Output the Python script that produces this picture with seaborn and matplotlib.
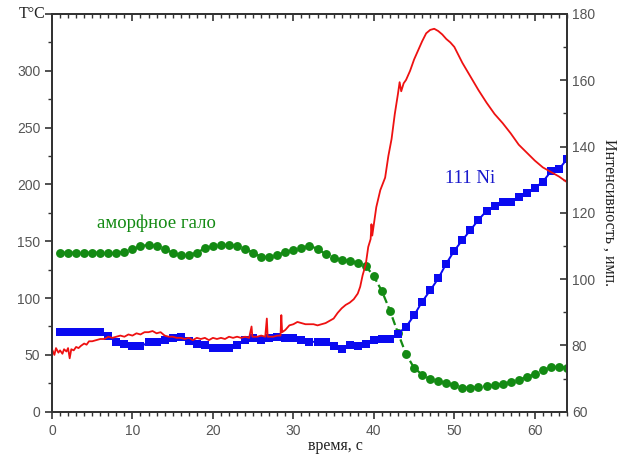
import numpy as np
import pandas as pd
import matplotlib
matplotlib.use('Agg')
import matplotlib.pyplot as plt
from matplotlib.ticker import MultipleLocator
import seaborn as sns

# =========================
# 1. DATA
# =========================
# temperature trace, left axis (T, °C)
red_time = [0.0, 0.3, 0.5, 0.8, 1.0, 1.3, 1.5, 1.8, 2.0, 2.2, 2.4, 2.7, 3.0, 3.3, 3.6,
            4.0, 4.3, 4.6, 5.0, 5.5, 6.0, 6.5, 7.0, 7.5, 8.0, 8.5, 9.0, 9.5, 10.0, 10.5,
            11.0, 11.5, 12.0, 12.5, 13.0, 13.5, 14.0, 14.5, 15.0, 15.5, 16.0, 16.5, 17.0,
            17.5, 18.0, 18.5, 19.0, 19.5, 20.0, 20.5, 21.0, 21.5, 22.0, 22.5, 23.0, 23.5,
            24.0, 24.5, 24.8, 24.9, 25.5, 26.0, 26.5, 26.7, 26.8, 27.5, 28.0, 28.4, 28.5,
            28.6, 29.0, 29.5, 30.0, 30.5, 31.0, 31.5, 32.0, 32.5, 33.0, 33.5, 34.0, 34.5,
            35.0, 35.5, 36.0, 36.5, 37.0, 37.5, 38.0, 38.3, 38.6, 39.0, 39.3, 39.6, 39.7,
            39.8, 40.0, 40.3, 40.8, 41.4, 41.8, 42.2, 42.6, 43.0, 43.2, 43.4, 43.7, 44.0,
            44.5, 45.0, 45.5, 46.0, 46.5, 47.0, 47.5, 48.0, 48.5, 49.0, 49.5, 50.0, 51.0,
            52.0, 53.0, 54.0, 55.0, 56.0, 57.0, 58.0, 59.0, 60.0, 61.0, 62.0, 63.0, 64.0]
red_temp = [55, 50, 56, 52, 54, 51, 55, 53, 56, 47, 55, 54, 57, 56, 58,
            60, 59, 62, 62, 63, 64, 64, 66, 65, 66, 67, 66, 68, 67, 69,
            68, 70, 70, 71, 69, 70, 67, 66, 66, 65, 65, 64, 65,
            63, 65, 64, 65, 63, 65, 64, 65, 64, 66, 65, 66, 65,
            66, 65, 75, 66, 66, 67, 66, 82, 66, 66, 67, 67, 85,
            70, 72, 76, 77, 79, 78, 77, 77, 77, 76, 77, 78, 80,
            82, 87, 91, 94, 96, 99, 104, 110, 120, 130, 145, 152, 165,
            155, 165, 180, 195, 206, 225, 240, 262, 280, 290, 282, 289, 292,
            300, 310, 318, 326, 333, 336, 337, 335, 332, 328, 325, 321, 307,
            295, 283, 272, 262, 254, 245, 235, 228, 221, 215, 211, 207, 202]

# diffraction intensities, right axis (counts), one point per second
scan_time = list(range(1, 65))
halo_int = [108, 108, 108, 108, 108, 108, 107.8, 107.8, 108.3, 109, 110, 110.3, 110, 109,
            108, 107.2, 107.3, 108, 109.3, 110, 110.3, 110.3, 110, 109.2, 108, 106.7, 106.7,
            107.3, 108.2, 108.8, 109.5, 110, 109.2, 107.5, 106.5, 105.8, 105.5, 105, 104,
            100.8, 96.4, 90.5, 83.7, 77.4, 73.2, 71.2, 69.8, 69.3, 68.7, 68.1, 67.3, 67.2,
            67.5, 67.8, 68, 68.4, 69, 69.6, 70.5, 71.3, 72.6, 73.4, 73.6, 73.2]
ni111_int = [84.1, 84.1, 84.1, 84.1, 84.1, 84.1, 82.9, 80.9, 80.4, 79.7, 79.7, 80.9, 80.9,
             81.6, 82.1, 82.4, 81.4, 80.4, 80.1, 79.2, 79.2, 79.1, 80.1, 81.6, 82.3, 81.6,
             82.1, 82.4, 82.3, 82.3, 81.7, 81.1, 81.1, 80.9, 79.9, 78.9, 80.1, 79.7, 80.4,
             81.6, 82, 82, 83.6, 85.6, 89.1, 93.2, 96.6, 100.2, 104.7, 108.6, 111.8, 114.8,
             117.9, 120.6, 122, 123.3, 123.2, 124.9, 125.9, 127.5, 129.4, 132.5, 133.2, 136.2]

temp_df = pd.DataFrame({'t': red_time, 'T': red_temp})
xrd_df = pd.DataFrame({'t': scan_time, 'halo': halo_int, 'ni': ni111_int})

# =========================
# 2. FIGURE SETUP
# =========================
sns.set_style('ticks')
plt.rcParams['font.family'] = ['Liberation Sans', 'DejaVu Sans']
serif = ['Liberation Serif', 'DejaVu Serif']
tick_grey = '#555555'
spine_col = '#333333'

fig = plt.figure(figsize=(6.3, 4.59), dpi=100)
ax = fig.add_axes([0.0825, 0.103, 0.8175, 0.8665])
ax2 = ax.twinx()

# =========================
# 3. SERIES
# =========================
sns.lineplot(data=xrd_df, x='t', y='halo', ax=ax2, color='#138a13', marker='o',
             markersize=6.4, markeredgewidth=0, linewidth=1.6, linestyle='--')
sns.lineplot(data=xrd_df, x='t', y='ni', ax=ax2, color='#0a0af0', marker='s',
             markersize=6, markeredgewidth=0, linewidth=1.4)
sns.lineplot(data=temp_df, x='t', y='T', ax=ax, color='#ee1111', linewidth=1.3,
             sort=False, estimator=None)

# temperature on top of the intensity markers
ax.set_zorder(ax2.get_zorder() + 1)
ax.patch.set_visible(False)

# =========================
# 4. AXES + TICKS
# =========================
ax.set_xlim(0, 64)
ax.set_ylim(0, 350)
ax2.set_ylim(60, 180)

ax.xaxis.set_major_locator(MultipleLocator(10))
ax.xaxis.set_minor_locator(MultipleLocator(1))
ax.yaxis.set_minor_locator(MultipleLocator(25))
ax2.yaxis.set_major_locator(MultipleLocator(20))
ax2.yaxis.set_minor_locator(MultipleLocator(10))

ax.set_yticks(range(0, 351, 50))
ax.set_yticklabels([str(v) for v in range(0, 301, 50)] + [''])

ax.tick_params(axis='both', which='both', direction='out', labelsize=10,
               labelcolor=tick_grey, color=spine_col)
ax.tick_params(which='major', length=5, width=1.2)
ax.tick_params(which='minor', length=3, width=1.0)

# top axis: same ticks, pointing into the plot, no labels
top = ax.secondary_xaxis('top')
top.xaxis.set_major_locator(MultipleLocator(10))
top.xaxis.set_minor_locator(MultipleLocator(1))
top.tick_params(which='both', direction='in', labeltop=False, color=spine_col)
top.tick_params(which='major', length=5, width=1.2)
top.tick_params(which='minor', length=3, width=1.0)
top.spines['top'].set_color(spine_col)
top.spines['top'].set_linewidth(1.3)

ax2.tick_params(axis='y', which='both', direction='in', labelsize=10,
                labelcolor=tick_grey, color=spine_col)
ax2.tick_params(which='major', length=5, width=1.2)
ax2.tick_params(which='minor', length=3, width=1.0)

for a in (ax, ax2):
    for s in a.spines.values():
        s.set_color(spine_col)
        s.set_linewidth(1.3)

ax.set_xlabel('время, с', family=serif, fontsize=11.5, color='#222222')
ax.xaxis.set_label_coords(0.55, -0.065)
ax.set_ylabel('')
ax2.set_ylabel('Интенсивность , имп.', family=serif, fontsize=11.5, color='#222222',
               rotation=270, labelpad=16)
ax.text(-0.012, 350, 'T°C', transform=ax.get_yaxis_transform(), ha='right',
        va='center', family=serif, fontsize=11.5, color='#222222')

# =========================
# 5. ANNOTATIONS
# =========================
ax.text(5.6, 166, 'аморфное гало', family=serif, fontsize=13.5, color='#138a13',
        va='center', ha='left')
ax.text(48.8, 205, '111 Ni', family=serif, fontsize=13.5, color='#1a1acc',
        va='center', ha='left')

plt.savefig('out.png', dpi=100)
